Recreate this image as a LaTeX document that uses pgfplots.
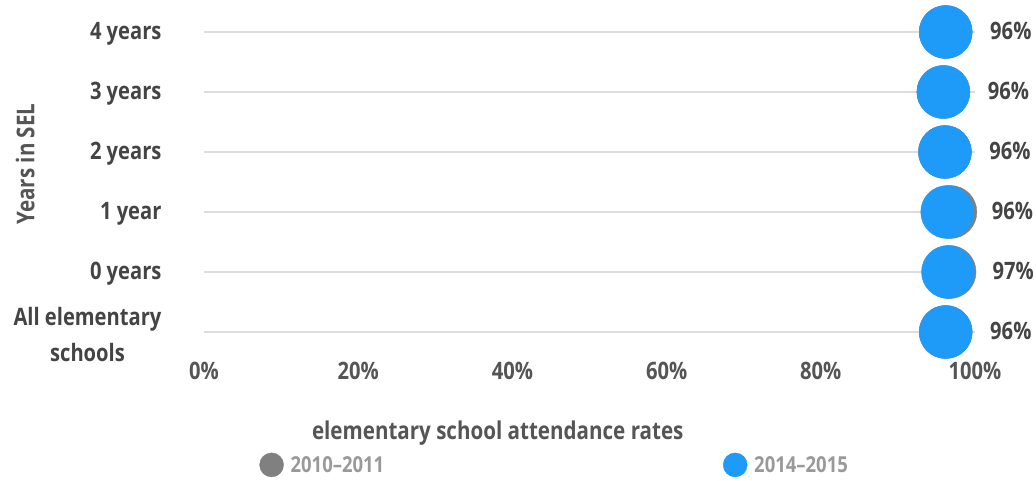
\documentclass[border=0pt]{standalone}
\usepackage{fontspec}
\setmainfont{Open Sans}[FakeStretch=0.84]
\usepackage{pgfplots}
\pgfplotsset{compat=1.18}
\usepackage{pgfplotstable}
\definecolor{blueDot}{HTML}{1E9BF8}
\definecolor{grayDot}{HTML}{808080}
\definecolor{gridc}{HTML}{DDDDDD}
\definecolor{darktxt}{HTML}{444444}
\definecolor{midtxt}{HTML}{555555}
\definecolor{lighttxt}{HTML}{999999}
\newcommand\bigf{\fontsize{24bp}{36bp}\selectfont\bfseries}
\newcommand\midf{\fontsize{22bp}{24bp}\selectfont\bfseries}
\newcommand\titf{\fontsize{24.5bp}{26bp}\selectfont\bfseries}
\pgfplotstableread{
y old new lab
0 96.2 96.2 96
1 96.7 96.5 97
2 96.8 96.4 96
3 96.1 96.1 96
4 95.9 95.9 96
5 96.2 96.2 96
}\datatab
\begin{document}
\begin{tikzpicture}
\useasboundingbox (-204bp,-149bp) rectangle (832bp,332bp);
\begin{axis}[
  scale only axis, width=771bp, height=300bp,
  xmin=0, xmax=100, ymin=0, ymax=5,
  clip=false,
  /pgf/number format/assume math mode=true,
  axis line style={draw=none},
  major tick length=0pt,
  xtick={0,20,...,100},
  xticklabel={\pgfmathprintnumber{\tick}\%},
  xticklabel style={font=\bigf, text=midtxt, yshift=-27bp},
  ytick={0,...,5},
  yticklabels={{All elementary\\schools},0 years,1 year,2 years,3 years,4 years},
  yticklabel style={font=\bigf, text=darktxt, align=center, xshift=-39bp, yshift=-2bp},
  ymajorgrids,
  grid style={line width=2bp, color=gridc},
  xlabel={elementary school attendance rates},
  xlabel style={at={(axis description cs:0.381,-0.337)}, anchor=center, font=\titf, text=midtxt},
  ylabel={Years in SEL},
  ylabel style={at={(axis description cs:-0.232,0.56)}, anchor=center, font=\titf, text=midtxt},
  legend columns=2,
  legend style={at={(axis description cs:0.068,-0.443)}, anchor=west, draw=none, fill=none,
    font=\midf, text=lighttxt,
    /tikz/every odd column/.append style={column sep=5bp},
    /tikz/every even column/.append style={column sep=337bp}},
  legend image post style={mark size=12bp},
]
\addplot[only marks, color=grayDot, mark=*, mark size=26.5bp, mark options={fill=grayDot, draw=grayDot}]
  table[x=old, y=y] {\datatab};
\addlegendentry{2010–2011}
\addplot[only marks, color=blueDot, mark=*, mark size=26.5bp, mark options={fill=blueDot, draw=blueDot},
  point meta=\thisrow{lab},
  nodes near coords={\pgfmathprintnumber{\pgfplotspointmeta}\%},
  every node near coord/.append style={anchor=west, xshift=41bp, yshift=1bp, font=\bigf, text=darktxt}]
  table[x=new, y=y] {\datatab};
\addlegendentry{2014–2015}
\end{axis}
\end{tikzpicture}
\end{document}
